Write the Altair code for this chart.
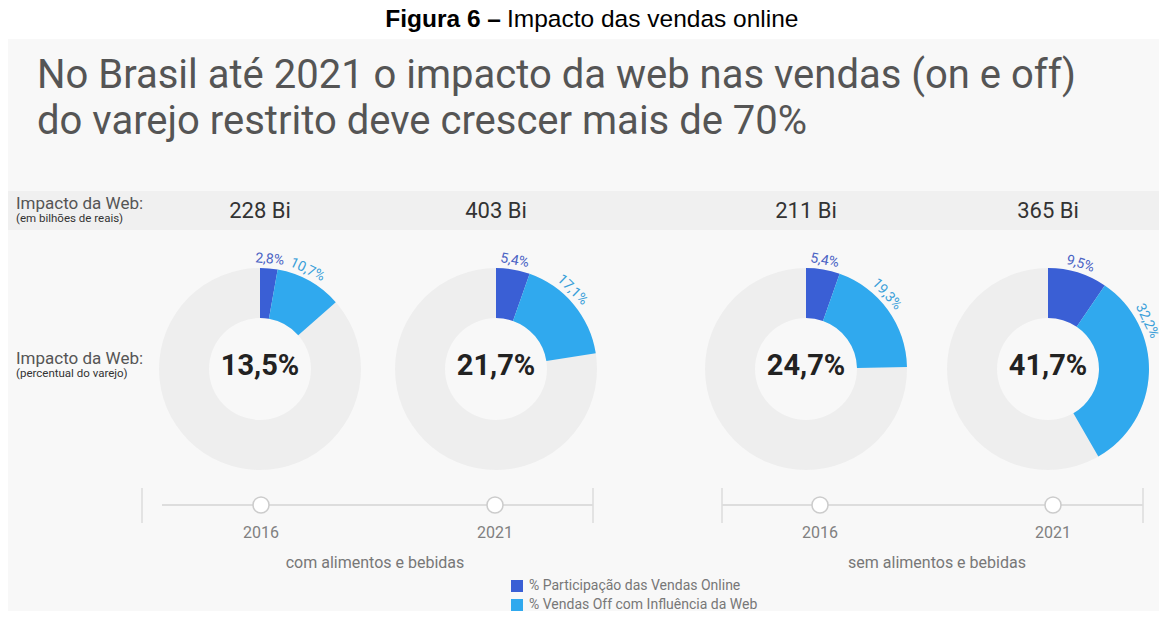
import altair as alt
import pandas as pd

# ---------------- data ----------------
panels = ["com_2016", "com_2021", "sem_2016", "sem_2021"]
years = ["2016", "2021", "2016", "2021"]
groups = ["com alimentos e bebidas", "sem alimentos e bebidas"]
header_bi = ["228 Bi", "403 Bi", "211 Bi", "365 Bi"]
total_pct = [13.5, 21.7, 24.7, 41.7]
series = ["% Participação das Vendas Online", "% Vendas Off com Influência da Web"]
online_pct = [2.8, 5.4, 5.4, 9.5]
offweb_pct = [10.7, 17.1, 19.3, 32.2]


def fmt(v):
    return f"{v:.1f}".replace(".", ",") + "%"


seg_rows = []
for i, p in enumerate(panels):
    a, b = online_pct[i], offweb_pct[i]
    seg_rows.append(dict(slot=i, series=series[0], start=0.0, end=a,
                         lab=a / 2.0, text=fmt(a)))
    seg_rows.append(dict(slot=i, series=series[1], start=a, end=a + b,
                         lab=a + min(0.4 * b, 8.33), text=fmt(b)))
seg = pd.DataFrame(seg_rows)
seg["lab_deg"] = seg["lab"] * 3.6

pan = pd.DataFrame(dict(slot=list(range(4)), header=header_bi,
                        total=[fmt(v) for v in total_pct], year=years))
one = pd.DataFrame(dict(k=[0]))

# ---------------- styling ----------------
FONT = "Roboto"
DARK, LIGHT = "#3a5fd5", "#30a9ee"
CENTERS = [252, 488, 798, 1040]
donut_x = alt.Scale(domain=[0, 1, 2, 3], range=CENTERS)
time_x = alt.Scale(domain=[0, 1, 2, 3], range=[253, 487, 812, 1045])
theta_sc = alt.Scale(domain=[0, 100], range=[0, 6.283185307])
color_sc = alt.Scale(domain=series, range=[DARK, LIGHT])
CY = 361
R_OUT, R_IN = 101, 51

layers = []

# panel backgrounds
layers.append(alt.Chart(one).mark_rect(color="#f8f8f8").encode(
    x=alt.value(0), x2=alt.value(1152), y=alt.value(31), y2=alt.value(603)))
layers.append(alt.Chart(one).mark_rect(color="#f0f0f0").encode(
    x=alt.value(0), x2=alt.value(1152), y=alt.value(183), y2=alt.value(222)))

# figure caption
layers.append(alt.Chart(one).mark_text(font="Liberation Sans", fontSize=24.5, fontWeight="bold",
                                       align="right", baseline="alphabetic", color="#000").encode(
    x=alt.value(493), y=alt.value(19), text=alt.value("Figura 6 –")))
layers.append(alt.Chart(one).mark_text(font="Liberation Sans", fontSize=24.5,
                                       align="left", baseline="alphabetic", color="#000").encode(
    x=alt.value(499), y=alt.value(19), text=alt.value("Impacto das vendas online")))

# big title
for txt, yy in [("No Brasil até 2021 o impacto da web nas vendas (on e off)", 80),
                ("do varejo restrito deve crescer mais de 70%", 126)]:
    layers.append(alt.Chart(one).mark_text(font=FONT, fontSize=40, align="left",
                                           baseline="alphabetic", color="#555").encode(
        x=alt.value(29), y=alt.value(yy), text=alt.value(txt)))

# left labels
for txt, yy, fs, col in [("Impacto da Web:", 201, 17, "#555"),
                         ("(em bilhões de reais)", 214, 11.5, "#333"),
                         ("Impacto da Web:", 356, 17, "#555"),
                         ("(percentual do varejo)", 369, 11.5, "#333")]:
    layers.append(alt.Chart(one).mark_text(font=FONT, fontSize=fs, align="left",
                                           baseline="alphabetic", color=col).encode(
        x=alt.value(8), y=alt.value(yy), text=alt.value(txt)))

# header values
layers.append(alt.Chart(pan).mark_text(font=FONT, fontSize=22, baseline="alphabetic",
                                       color="#333").encode(
    x=alt.X("slot:Q", scale=donut_x, axis=None), y=alt.value(210), text="header:N"))

# donuts (one layer per panel)
for i, cx in enumerate(CENTERS):
    layers.append(alt.Chart(pan).transform_filter(alt.datum.slot == i).mark_arc(
        innerRadius=R_IN, outerRadius=R_OUT, color="#eeeeee").encode(
        x=alt.value(cx), y=alt.value(CY),
        theta=alt.value(0), theta2=alt.value(6.283185307)))
    layers.append(alt.Chart(seg).transform_filter(alt.datum.slot == i).mark_arc(
        innerRadius=R_IN, outerRadius=R_OUT).encode(
        x=alt.value(cx), y=alt.value(CY),
        theta=alt.Theta("start:Q", scale=theta_sc, stack=False),
        theta2="end:Q",
        color=alt.Color("series:N", scale=color_sc,
                        legend=alt.Legend(title=None, orient="none", legendX=502, legendY=571,
                                          symbolType="square", symbolSize=144,
                                          symbolStrokeWidth=0, labelFont=FONT,
                                          labelFontSize=14, labelColor="#777",
                                          labelLimit=400, labelOffset=5, rowPadding=5,
                                          padding=0))))

# segment labels
layers.append(alt.Chart(seg).mark_text(font=FONT, fontSize=14, radius=110,
                                       baseline="middle").encode(
    x=alt.X("slot:Q", scale=donut_x, axis=None), y=alt.value(CY),
    theta=alt.Theta("lab:Q", scale=theta_sc, stack=False),
    angle=alt.Angle("lab_deg:Q", scale=None),
    text="text:N",
    color=alt.condition(alt.datum.series == series[0], alt.value("#4a63c4"), alt.value("#3a9fd9"))))

# centre totals
layers.append(alt.Chart(pan).mark_text(font=FONT, fontSize=29, fontWeight="bold",
                                       baseline="alphabetic", color="#222").encode(
    x=alt.X("slot:Q", scale=donut_x, axis=None), y=alt.value(367), text="total:N"))

# timelines
RULE = "#dddddd"
for x1, x2 in [(154, 585), (714, 1135)]:
    layers.append(alt.Chart(one).mark_rule(color=RULE, strokeWidth=2).encode(
        x=alt.value(x1), x2=alt.value(x2), y=alt.value(497)))
for xx in [134, 585, 714, 1135]:
    layers.append(alt.Chart(one).mark_rule(color=RULE, strokeWidth=1.5).encode(
        x=alt.value(xx), y=alt.value(480), y2=alt.value(515)))

layers.append(alt.Chart(pan).mark_point(filled=True, fill="#ffffff", stroke="#cccccc",
                                        strokeWidth=1.5, size=256, opacity=1, shape="circle").encode(
    x=alt.X("slot:Q", scale=time_x, axis=None), y=alt.value(497)))
layers.append(alt.Chart(pan).mark_text(font=FONT, fontSize=16, baseline="alphabetic",
                                       color="#808080").encode(
    x=alt.X("slot:Q", scale=time_x, axis=None), y=alt.value(530), text="year:N"))

for txt, xx in zip(groups, [367, 929]):
    layers.append(alt.Chart(one).mark_text(font=FONT, fontSize=16, baseline="alphabetic",
                                           color="#777").encode(
        x=alt.value(xx), y=alt.value(560), text=alt.value(txt)))

chart = alt.layer(*layers).resolve_scale(x="independent").properties(
    width=1151, height=603, padding=0, autosize="none", background="#ffffff"
).configure_view(stroke=None)

chart.save("out.html", embed_options={"renderer": "svg", "actions": False})
